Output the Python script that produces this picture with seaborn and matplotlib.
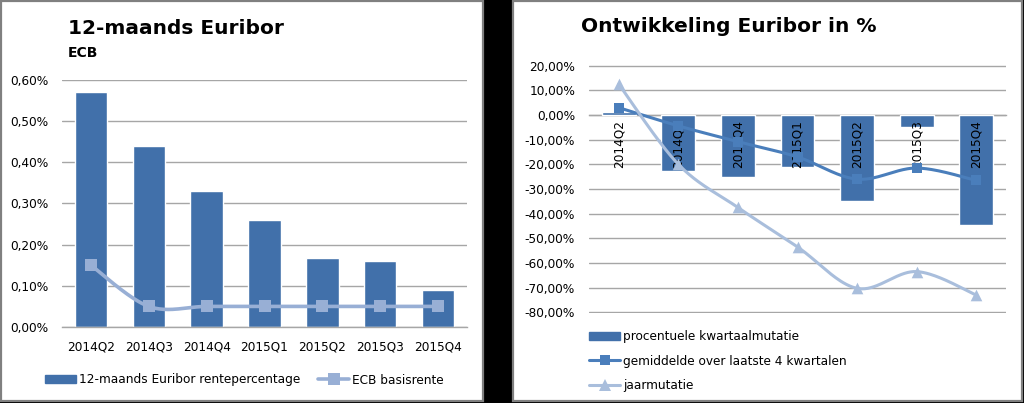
import numpy as np
import pandas as pd
import matplotlib
matplotlib.use("Agg")
import matplotlib.pyplot as plt
import seaborn as sns
from matplotlib.patches import Rectangle, Patch
from matplotlib.lines import Line2D
from matplotlib.ticker import FuncFormatter, MultipleLocator
from matplotlib.transforms import offset_copy

# ---------------- data ----------------
quarters = ["2014Q2", "2014Q3", "2014Q4", "2015Q1", "2015Q2", "2015Q3", "2015Q4"]
euribor_12m = [0.57, 0.44, 0.33, 0.26, 0.168, 0.161, 0.089]
ecb_rate = [0.15, 0.05, 0.05, 0.05, 0.05, 0.05, 0.05]

kwartaalmutatie = [1.3, -22.9, -25.0, -21.2, -35.0, -4.8, -44.8]
gemiddelde_4kw = [3.0, -4.4, -10.8, -17.0, -26.0, -21.5, -26.5]
jaarmutatie = [12.5, -20.0, -37.5, -53.5, -70.3, -63.5, -73.0]

left_title = "12-maands Euribor"
left_subtitle = "ECB"
left_labels = ["12-maands Euribor rentepercentage", "ECB basisrente"]
right_title = "Ontwikkeling Euribor in %"
right_labels = ["procentuele kwartaalmutatie", "gemiddelde over laatste 4 kwartalen", "jaarmutatie"]

# ---------------- style ----------------
sns.set_theme(style="white")
plt.rcParams["font.family"] = ["DejaVu Sans"]
plt.rcParams["text.color"] = "black"
plt.rcParams["xtick.color"] = "black"
plt.rcParams["ytick.color"] = "black"
FS = 8.7
BAR = "#4170AA"
ECB_C = "#98AFD5"
AVG_C = "#4A7EBB"
YR_C = "#A9BEDC"
GRID = "#A6A6A6"

W, H = 1024, 403
fig = plt.figure(figsize=(W / 100, H / 100), dpi=100)
fig.patch.set_facecolor("black")


def fx(px):
    return px / W


def fy(py):
    return 1 - py / H


# panel backgrounds
for x0, x1 in [(1, 483), (513, 1022)]:
    fig.patches.append(Rectangle((fx(x0), fy(401)), fx(x1 - x0), (400) / H,
                                 transform=fig.transFigure, facecolor="white",
                                 edgecolor="#808080", linewidth=1.6, zorder=-5))


def smooth(xv, yv, n=40):
    xv = np.asarray(xv, float)
    yv = np.asarray(yv, float)
    P = np.column_stack([xv, yv])
    out = []
    m = len(P)
    for i in range(m - 1):
        p0 = P[max(i - 1, 0)]
        p1 = P[i]
        p2 = P[i + 1]
        p3 = P[min(i + 2, m - 1)]
        c1 = p1 + (p2 - p0) / 6.0
        c2 = p2 - (p3 - p1) / 6.0
        t = np.linspace(0, 1, n)[:, None]
        seg = ((1 - t) ** 3) * p1 + 3 * ((1 - t) ** 2) * t * c1 + 3 * (1 - t) * t ** 2 * c2 + t ** 3 * p2
        out.append(seg if i == 0 else seg[1:])
    S = np.vstack(out)
    return S[:, 0], S[:, 1]


pos = np.arange(len(quarters))

# ---------------- left chart ----------------
axL = fig.add_axes([fx(62), fy(327), fx(467 - 62), (327 - 80) / H])
axL.set_facecolor("none")
dfL = pd.DataFrame({"q": quarters, "v": euribor_12m})
sns.barplot(data=dfL, x="q", y="v", color=BAR, saturation=1, width=0.56, ax=axL, zorder=2)
sx, sy = smooth(pos, ecb_rate)
sns.lineplot(x=sx, y=sy, sort=False, estimator=None, color=ECB_C, lw=2.6, ax=axL, zorder=3)
axL.scatter(pos, ecb_rate, marker="s", s=80, color=ECB_C, zorder=4, linewidths=0)
axL.set_xlim(-0.5, 6.5)
axL.set_ylim(0, 0.6)
axL.yaxis.set_major_locator(MultipleLocator(0.1))
axL.yaxis.set_major_formatter(FuncFormatter(lambda v, p: f"{v:.2f}%".replace(".", ",")))
axL.grid(axis="y", color=GRID, lw=1, zorder=0)
axL.set_axisbelow(True)
for s in ["top", "right", "left"]:
    axL.spines[s].set_visible(False)
axL.spines["bottom"].set_color(GRID)
axL.spines["bottom"].set_linewidth(1)
axL.tick_params(axis="both", length=0, labelsize=FS, colors="black", pad=10)
axL.set_xlabel("")
axL.set_ylabel("")
fig.text(fx(68), fy(28), left_title, fontsize=14.5, fontweight="bold", va="center", ha="left", color="black")
fig.text(fx(68), fy(53), left_subtitle, fontsize=10, fontweight="bold", va="center", ha="left", color="black")
hL = [Patch(facecolor=BAR, edgecolor=BAR),
      Line2D([0], [0], color=ECB_C, lw=2.6, marker="s", markersize=8, markeredgewidth=0)]
fig.legend(hL, left_labels, loc="center", bbox_to_anchor=(fx(244), fy(380)), ncol=2,
           frameon=False, fontsize=FS, handlelength=2.6, handleheight=0.6,
           handletextpad=0.2, columnspacing=1.5, borderpad=0, labelcolor="black")

# ---------------- right chart ----------------
axR = fig.add_axes([fx(589), fy(313), fx(1006 - 589), (313 - 65) / H])
axR.set_facecolor("none")
dfR = pd.DataFrame({"q": quarters, "v": kwartaalmutatie})
sns.barplot(data=dfR, x="q", y="v", color=BAR, saturation=1, width=0.57, ax=axR, zorder=2)
ax_, ay_ = smooth(pos, gemiddelde_4kw)
sns.lineplot(x=ax_, y=ay_, sort=False, estimator=None, color=AVG_C, lw=2.2, ax=axR, zorder=4)
axR.scatter(pos, gemiddelde_4kw, marker="s", s=50, color=AVG_C, zorder=5, linewidths=0)
jx, jy = smooth(pos, jaarmutatie)
sns.lineplot(x=jx, y=jy, sort=False, estimator=None, color=YR_C, lw=2.2, ax=axR, zorder=4)
axR.scatter(pos, jaarmutatie, marker="^", s=70, color=YR_C, zorder=5, linewidths=0)
axR.set_xlim(-0.5, 6.5)
axR.set_ylim(-80.3, 20.3)
axR.yaxis.set_major_locator(MultipleLocator(10))
axR.yaxis.set_major_formatter(FuncFormatter(lambda v, p: f"{v:.2f}%".replace(".", ",")))
axR.grid(axis="y", color=GRID, lw=1, zorder=0)
axR.set_axisbelow(True)
for s in ["top", "right", "left"]:
    axR.spines[s].set_visible(False)
axR.spines["bottom"].set_position(("data", 0))
axR.spines["bottom"].set_color(GRID)
axR.spines["bottom"].set_linewidth(1)
axR.spines["bottom"].set_zorder(1)
axR.tick_params(axis="y", length=0, labelsize=FS, colors="black", pad=10)
axR.tick_params(axis="x", length=0, labelbottom=False)
lab_tr = offset_copy(axR.transData, fig=fig, x=0, y=-5, units="dots")
for i, q in enumerate(quarters):
    axR.text(i, 0, q, rotation=90, ha="center", va="top", fontsize=FS,
             color="black", transform=lab_tr, zorder=3)
axR.set_xlabel("")
axR.set_ylabel("")
fig.text(fx(581), fy(27), right_title, fontsize=14.5, fontweight="bold", va="center", ha="left", color="black")
hR = [Patch(facecolor=BAR, edgecolor=BAR),
      Line2D([0], [0], color=AVG_C, lw=2.2, marker="s", markersize=7, markeredgewidth=0),
      Line2D([0], [0], color=YR_C, lw=2.2, marker="^", markersize=8, markeredgewidth=0)]
fig.legend(hR, right_labels, loc="upper left", bbox_to_anchor=(fx(583), fy(324)), ncol=1,
           frameon=False, fontsize=FS, handlelength=2.6, handleheight=0.6,
           handletextpad=0.2, labelspacing=0.95, borderpad=0, labelcolor="black")

fig.savefig("out.png", dpi=100, facecolor=fig.get_facecolor())
